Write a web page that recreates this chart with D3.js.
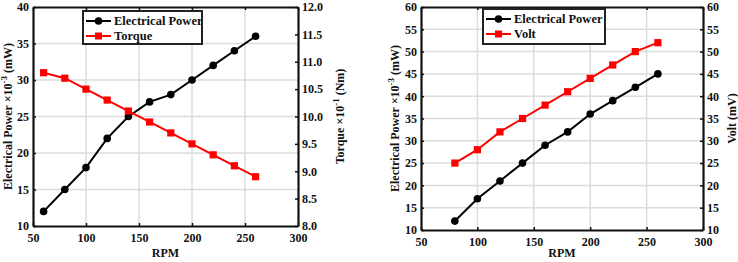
<!DOCTYPE html>
<html>
<head>
<meta charset="utf-8">
<script src="https://cdn.jsdelivr.net/npm/d3@7"></script>
<style>
  body { margin: 0; background: #fff; }
</style>
</head>
<body>
<div id="chart"></div>
<script>
// Left panel data
const rpmA = [60, 80, 100, 120, 140, 160, 180, 200, 220, 240, 260];
const powerA = [12, 15, 18, 22, 25, 27, 28, 30, 32, 34, 36];
const torque = [10.8, 10.7, 10.5, 10.3, 10.1, 9.9, 9.7, 9.5, 9.3, 9.1, 8.9];

// Right panel data
const rpmB = [80, 100, 120, 140, 160, 180, 200, 220, 240, 260];
const powerB = [12, 17, 21, 25, 29, 32, 36, 39, 42, 45];
const volt = [25, 28, 32, 35, 38, 41, 44, 47, 50, 52];

// Tick values
const rpmTicks = [50, 100, 150, 200, 250, 300];
const powerTicksA = [10, 15, 20, 25, 30, 35, 40];
const torqueTicks = [8, 8.5, 9, 9.5, 10, 10.5, 11, 11.5, 12];
const ticksB = [10, 15, 20, 25, 30, 35, 40, 45, 50, 55, 60];

const FONT = "'Liberation Serif', 'DejaVu Serif', serif";
const TXT = "#111";

const svg = d3.select("#chart").append("svg")
    .attr("width", 738)
    .attr("height", 262)
    .attr("font-family", FONT)
    .attr("font-weight", "bold");

function drawPanel(opts) {
    const { x0, x1, y0, y1, xs, left, right, leftTicks, rightTicks,
            leftDomain, rightDomain, leftLabel, rightLabel, names,
            leftLabelX, rightLabelX, legend } = opts;

    const x = d3.scaleLinear().domain([50, 300]).range([x0, x1]);
    const yL = d3.scaleLinear().domain(leftDomain).range([y1, y0]);
    const yR = d3.scaleLinear().domain(rightDomain).range([y1, y0]);

    const g = svg.append("g");

    // grid
    g.selectAll(".vgrid").data(rpmTicks.slice(1, -1)).join("line")
        .attr("x1", d => x(d)).attr("x2", d => x(d))
        .attr("y1", y0).attr("y2", y1)
        .attr("stroke", "#dcdcdc").attr("stroke-width", 1.5);
    g.selectAll(".hgrid").data(leftTicks.slice(1, -1)).join("line")
        .attr("x1", x0).attr("x2", x1)
        .attr("y1", d => yL(d)).attr("y2", d => yL(d))
        .attr("stroke", "#dcdcdc").attr("stroke-width", 1.5);

    // axes
    const ax = g.append("g")
        .attr("transform", `translate(0,${y1})`)
        .call(d3.axisBottom(x).tickValues(rpmTicks).tickSizeInner(-3).tickSizeOuter(0).tickPadding(7));
    const axTop = g.append("g")
        .attr("transform", `translate(0,${y0})`)
        .call(d3.axisTop(x).tickValues(rpmTicks).tickSizeInner(-3).tickSizeOuter(0).tickFormat(""));
    const ayL = g.append("g")
        .attr("transform", `translate(${x0},0)`)
        .call(d3.axisLeft(yL).tickValues(leftTicks).tickSizeInner(-3).tickSizeOuter(0).tickPadding(4));
    const ayR = g.append("g")
        .attr("transform", `translate(${x1},0)`)
        .call(d3.axisRight(yR).tickValues(rightTicks).tickSizeInner(-3).tickSizeOuter(0).tickPadding(4));
    [ax, axTop, ayL, ayR].forEach(a => {
        a.attr("font-family", FONT).attr("font-size", 12).attr("font-weight", "bold");
        a.select(".domain").attr("stroke", "#111").attr("stroke-width", 2.2);
        a.selectAll(".tick line").attr("stroke", "#111").attr("stroke-width", 1.5);
        a.selectAll("text").attr("fill", TXT);
    });

    // axis titles
    g.append("text")
        .attr("x", (x0 + x1) / 2).attr("y", 257)
        .attr("text-anchor", "middle").attr("font-size", 12).attr("fill", TXT)
        .text("RPM");
    g.append("text")
        .attr("transform", `translate(${leftLabelX},${(y0 + y1) / 2}) rotate(-90)`)
        .attr("text-anchor", "middle").attr("dy", "0.35em").attr("font-size", 12).attr("fill", TXT)
        .html(leftLabel);
    g.append("text")
        .attr("transform", `translate(${rightLabelX},${(y0 + y1) / 2}) rotate(-90)`)
        .attr("text-anchor", "middle").attr("dy", "0.35em").attr("font-size", 12).attr("fill", TXT)
        .html(rightLabel);

    // lines
    const lineL = d3.line().x((d, i) => x(xs[i])).y(d => yL(d));
    const lineR = d3.line().x((d, i) => x(xs[i])).y(d => yR(d));
    g.append("path").datum(left).attr("d", lineL)
        .attr("fill", "none").attr("stroke", "#000").attr("stroke-width", 2);
    g.selectAll(".ptL").data(left).join("circle")
        .attr("cx", (d, i) => x(xs[i])).attr("cy", d => yL(d))
        .attr("r", 3.8).attr("fill", "#000");
    g.append("path").datum(right).attr("d", lineR)
        .attr("fill", "none").attr("stroke", "#ff0000").attr("stroke-width", 2);
    g.selectAll(".ptR").data(right).join("rect")
        .attr("x", (d, i) => x(xs[i]) - 3.6).attr("y", d => yR(d) - 3.6)
        .attr("width", 7.2).attr("height", 7.2).attr("fill", "#ff0000");

    // legend
    const lg = g.append("g").attr("transform", `translate(${legend.x},${legend.y})`);
    lg.append("rect").attr("width", legend.w).attr("height", legend.h)
        .attr("fill", "#fff").attr("stroke", "#222").attr("stroke-width", 2);
    const items = [{ name: names[0], color: "#000", shape: "circle" },
                   { name: names[1], color: "#ff0000", shape: "square" }];
    items.forEach((it, i) => {
        const cy = 10 + i * 15;
        lg.append("line").attr("x1", 3).attr("x2", 28).attr("y1", cy).attr("y2", cy)
            .attr("stroke", it.color).attr("stroke-width", 2);
        if (it.shape === "circle") {
            lg.append("circle").attr("cx", 15.5).attr("cy", cy).attr("r", 3.8).attr("fill", it.color);
        } else {
            lg.append("rect").attr("x", 12).attr("y", cy - 3.5).attr("width", 7).attr("height", 7).attr("fill", it.color);
        }
        lg.append("text").attr("x", 31).attr("y", cy).attr("dy", "0.35em")
            .attr("font-size", 12.5).attr("fill", TXT).text(it.name);
    });
}

drawPanel({
    x0: 33, x1: 298, y0: 7, y1: 226,
    xs: rpmA, left: powerA, right: torque,
    leftTicks: powerTicksA, rightTicks: torqueTicks,
    leftDomain: [10, 40], rightDomain: [8, 12],
    leftLabel: 'Electrical Power ×10<tspan dy="-5" font-size="9">-3</tspan><tspan dy="5"> (mW)</tspan>',
    rightLabel: 'Torque ×10<tspan dy="-5" font-size="9">-1</tspan><tspan dy="5"> (Nm)</tspan>',
    leftLabelX: 8, rightLabelX: 340,
    names: ["Electrical Power", "Torque"],
    legend: { x: 83, y: 11, w: 119, h: 33 }
});

drawPanel({
    x0: 421, x1: 703, y0: 7, y1: 230,
    xs: rpmB, left: powerB, right: volt,
    leftTicks: ticksB, rightTicks: ticksB,
    leftDomain: [10, 60], rightDomain: [10, 60],
    leftLabel: 'Electrical Power ×10<tspan dy="-5" font-size="9">-3</tspan><tspan dy="5"> (mW)</tspan>',
    rightLabel: 'Volt (mV)',
    leftLabelX: 395, rightLabelX: 732,
    names: ["Electrical Power", "Volt"],
    legend: { x: 483, y: 9, w: 122, h: 35 }
});
</script>
</body>
</html>
